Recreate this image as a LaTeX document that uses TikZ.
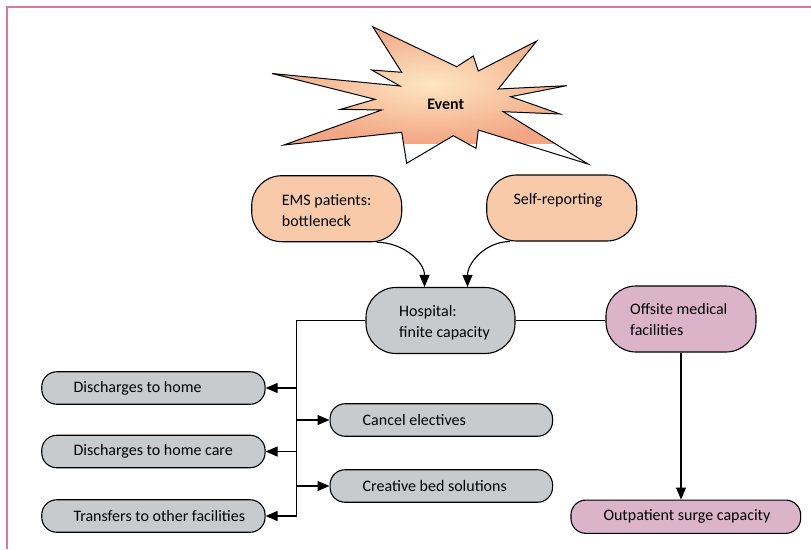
\documentclass[tikz,border=0pt]{standalone}
\usepackage{fontspec}
\setmainfont{Carlito}
\usetikzlibrary{arrows.meta}
\definecolor{peach}{HTML}{F8CAAA}
\definecolor{greybox}{HTML}{C8CBCE}
\definecolor{mauve}{HTML}{DCB4C9}
\definecolor{framepink}{HTML}{D9789A}
\definecolor{starin}{HTML}{FEE6C2}
\definecolor{starout}{HTML}{F2A684}
\tikzset{
  pill/.style={draw=black, line width=1.1pt, rounded corners=#1},
  bigpill/.style={pill=30pt, minimum width=150pt, minimum height=66pt, inner sep=0pt},
  smallpill/.style={pill=15pt, minimum height=32.5pt, inner sep=0pt},
  txt/.style={anchor=west, align=left, inner sep=0pt, font=\fontsize{16}{20.5}\selectfont},
  conn/.style={line width=1.1pt},
  arr/.style={conn, -{Triangle[length=12pt,width=10pt]}},
  starpath/.style={line width=1pt, draw=black}
}
\def\starshape{(372.7,26.7) -- (401.7,72.3) -- (371.7,70) -- (400,86) -- (272,73.5)
  -- (375,99.3) -- (340.7,109.3) -- (381.7,110) -- (284,145)
  -- (401.7,132.3) -- (406.7,163.3) -- (453.3,135.7) -- (476,148.3)
  -- (478.3,130) -- (588,164) -- (503.3,111.7) -- (560,114)
  -- (510.7,96.7) -- (566.7,85.7) -- (498.3,89) -- (536.7,41)
  -- (478.3,71) -- (473.3,56) -- (456.7,66.7) -- cycle}
\begin{document}
\begin{tikzpicture}[x=1pt,y=-1pt]
\useasboundingbox (0,0) rectangle (811,549);
% frame
\draw[framepink, line width=1.6pt] (7,549) -- (7,7) -- (811,7);
% starburst
\fill[white] \starshape;
\begin{scope}
  \clip \starshape;
  \shade[inner color=starin, outer color=starout] (270,24) rectangle (590,143.5);
\end{scope}
\draw[starpath] \starshape;
\node[font=\fontsize{16}{20}\selectfont\bfseries] (event) at (445.7,104) {Event};
% upper boxes
\node[bigpill, fill=peach] (ems) at (326.7,208.7) {};
\node[txt] (emsT) at (281.7,210.5) {EMS patients:\\bottleneck};
\node[bigpill, fill=peach] (self) at (561.7,208) {};
\node[txt] (selfT) at (513.3,200) {Self-reporting};
\node[bigpill, fill=greybox, minimum width=149pt] (hosp) at (440.5,320.5) {};
\node[txt] (hospT) at (399,322.5) {Hospital:\\finite capacity};
\node[bigpill, fill=mauve] (off) at (681,319) {};
\node[txt] (offT) at (630,319.7) {Offsite medical\\facilities};
\node[smallpill, fill=mauve, minimum width=229.7pt, minimum height=33.3pt] (outp) at (685.8,516.7) {};
\node[txt] (outpT) at (603.3,516.5) {Outpatient surge capacity};
% left boxes
\node[smallpill, fill=greybox, minimum width=223.3pt] (dhome) at (153.4,388) {};
\node[txt] (dhomeT) at (73.3,388) {Discharges to home};
\node[smallpill, fill=greybox, minimum width=223.3pt] (dcare) at (153.4,451.5) {};
\node[txt] (dcareT) at (73.3,451.5) {Discharges to home care};
\node[smallpill, fill=greybox, minimum width=223.3pt] (trans) at (153.4,516) {};
\node[txt] (transT) at (73.3,516) {Transfers to other facilities};
% right boxes
\node[smallpill, fill=greybox, minimum width=222.5pt] (cancel) at (441.3,420) {};
\node[txt] (cancelT) at (362.5,420) {Cancel electives};
\node[smallpill, fill=greybox, minimum width=222.5pt] (bed) at (441.3,486) {};
\node[txt] (bedT) at (362.5,486) {Creative bed solutions};
% connectors
\draw[arr] ([xshift=50pt]ems.south) to[out=0,in=90] ([xshift=-16pt]hosp.north);
\draw[arr] ([xshift=-51.7pt]self.south) to[out=180,in=90] ([xshift=27pt]hosp.north);
\draw[conn] (hosp.east) -- (hosp.east -| off.west);
\draw[arr] (off.south) -- (off.south |- outp.north);
\coordinate (tr) at (296.7,320.5);
\draw[conn] (hosp.west) -- (tr) -- (tr |- trans.east);
\draw[arr] (tr |- dhome.east) -- (dhome.east);
\draw[arr] (tr |- dcare.east) -- (dcare.east);
\draw[arr] (tr |- trans.east) -- (trans.east);
\draw[arr] (tr |- cancel.west) -- (cancel.west);
\draw[arr] (tr |- bed.west) -- (bed.west);
\end{tikzpicture}
\end{document}
